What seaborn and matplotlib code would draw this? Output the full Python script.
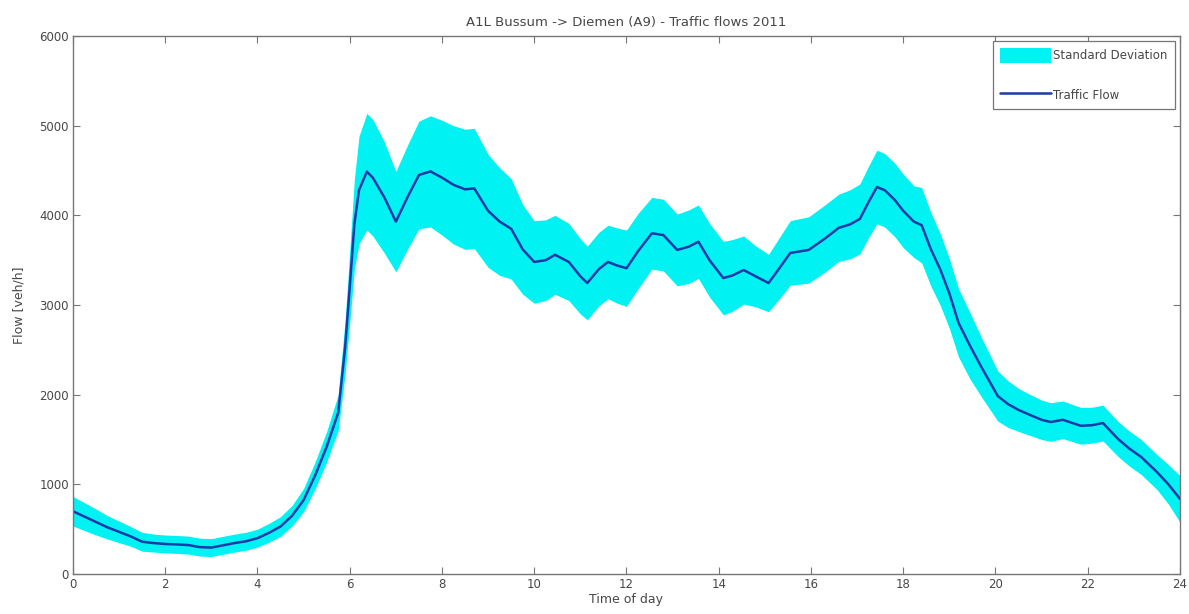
import numpy as np
import pandas as pd
import matplotlib
matplotlib.use("Agg")
import matplotlib.pyplot as plt
import seaborn as sns

# Hour of day and average flow / standard deviation (veh/h), A1L Bussum -> Diemen, 2011
hours = [0.0, 0.25, 0.5, 0.75, 1.0, 1.25, 1.5, 1.75, 2.0, 2.25, 2.5, 2.75, 3.0, 3.25,
         3.5, 3.75, 4.0, 4.25, 4.5, 4.75, 5.0, 5.25, 5.5, 5.75, 5.9, 6.0, 6.1, 6.2,
         6.37, 6.5, 6.75, 7.0, 7.25, 7.5, 7.75, 8.0, 8.25, 8.5, 8.7, 9.0, 9.25, 9.5,
         9.75, 10.0, 10.25, 10.45, 10.75, 11.0, 11.15, 11.4, 11.6, 11.8, 12.0, 12.25,
         12.55, 12.8, 13.1, 13.35, 13.56, 13.8, 14.1, 14.3, 14.54, 14.8, 15.08, 15.3,
         15.55, 15.95, 16.3, 16.6, 16.85, 17.06, 17.25, 17.43, 17.6, 17.82, 18.0,
         18.23, 18.4, 18.6, 18.8, 19.0, 19.2, 19.45, 19.7, 20.05, 20.27, 20.5, 20.7,
         21.0, 21.2, 21.46, 21.85, 22.1, 22.33, 22.66, 22.9, 23.16, 23.5, 23.75, 24.0]
flow = [700, 640, 580, 520, 470, 420, 360, 345, 335, 330, 323, 300, 295, 320,
        345, 365, 400, 460, 530, 650, 825, 1100, 1420, 1800, 2530, 3200, 3900, 4280,
        4487, 4420, 4200, 3930, 4200, 4450, 4490, 4420, 4340, 4290, 4300, 4050, 3930, 3850,
        3620, 3480, 3500, 3560, 3480, 3320, 3245, 3400, 3480, 3440, 3410, 3600,
        3800, 3780, 3614, 3650, 3706, 3500, 3300, 3330, 3390, 3320, 3245, 3400,
        3580, 3614, 3740, 3860, 3900, 3960, 4150, 4316, 4280, 4170, 4050,
        3930, 3890, 3620, 3400, 3130, 2800, 2543, 2303, 1985, 1896, 1830, 1785,
        1720, 1695, 1720, 1653, 1660, 1684, 1505, 1400, 1305, 1138, 1000, 838]
flow_std = [165, 155, 145, 130, 120, 110, 105, 100, 100, 100, 100, 100, 100, 100,
            100, 100, 100, 105, 110, 115, 130, 150, 170, 200, 300, 400, 500, 600,
            650, 650, 620, 560, 580, 600, 620, 640, 660, 670, 670, 630, 600, 560,
            500, 460, 450, 440, 430, 420, 410, 410, 410, 420, 425, 420,
            400, 400, 400, 410, 410, 410, 410, 400, 380, 340, 320, 340,
            360, 370, 375, 375, 385, 390, 400, 410, 410, 410, 410,
            400, 420, 410, 400, 390, 380, 370, 330, 280, 260, 240, 230,
            220, 215, 210, 205, 200, 200, 195, 195, 195, 195, 220, 260]

x_ticks = list(range(0, 25, 2))
y_ticks = list(range(0, 6001, 1000))

df = pd.DataFrame({"hour": hours, "flow": flow, "std": flow_std})
df["lower"] = df["flow"] - df["std"]
df["upper"] = df["flow"] + df["std"]

sns.set_theme(style="ticks")
plt.rcParams["font.family"] = ["DejaVu Sans"]
text_color = "#474747"
edge_color = "#767676"

fig = plt.figure(figsize=(11.89, 6.14), dpi=100)
ax = fig.add_axes([0.0614, 0.0651, 0.9310, 0.8763])

band = ax.fill_between(df["hour"], df["lower"], df["upper"], color="#00f2f2",
                       linewidth=0, label="Standard Deviation", zorder=1)
sns.lineplot(data=df, x="hour", y="flow", ax=ax, color="#1a3aa8", linewidth=1.8,
             label="Traffic Flow", zorder=2)

ax.set_xlim(0, 24)
ax.set_ylim(0, 6000)
ax.set_xticks(x_ticks)
ax.set_yticks(y_ticks)
ax.tick_params(direction="in", top=True, right=True, length=5, width=0.8,
               labelsize=8.5, colors=edge_color, labelcolor=text_color, pad=3)
for sp in ax.spines.values():
    sp.set_visible(True)
    sp.set_color(edge_color)
    sp.set_linewidth(1.0)

ax.set_title("A1L Bussum -> Diemen (A9) - Traffic flows 2011", fontsize=9.5,
             color=text_color, pad=7)
ax.set_xlabel("Time of day", fontsize=9, color=text_color, labelpad=1)
ax.set_ylabel("Flow [veh/h]", fontsize=9, color=text_color, labelpad=10)

handles, labels = ax.get_legend_handles_labels()
leg = ax.legend(handles, labels, loc="upper right", fontsize=8.5, frameon=True,
                fancybox=False, edgecolor=edge_color, framealpha=1,
                labelspacing=2.1, handlelength=4.3, handleheight=1.5,
                handletextpad=0.2, borderpad=0.6, borderaxespad=0.45)
leg.get_frame().set_linewidth(0.9)
for t in leg.get_texts():
    t.set_color(text_color)

fig.savefig("out.png", dpi=100)
